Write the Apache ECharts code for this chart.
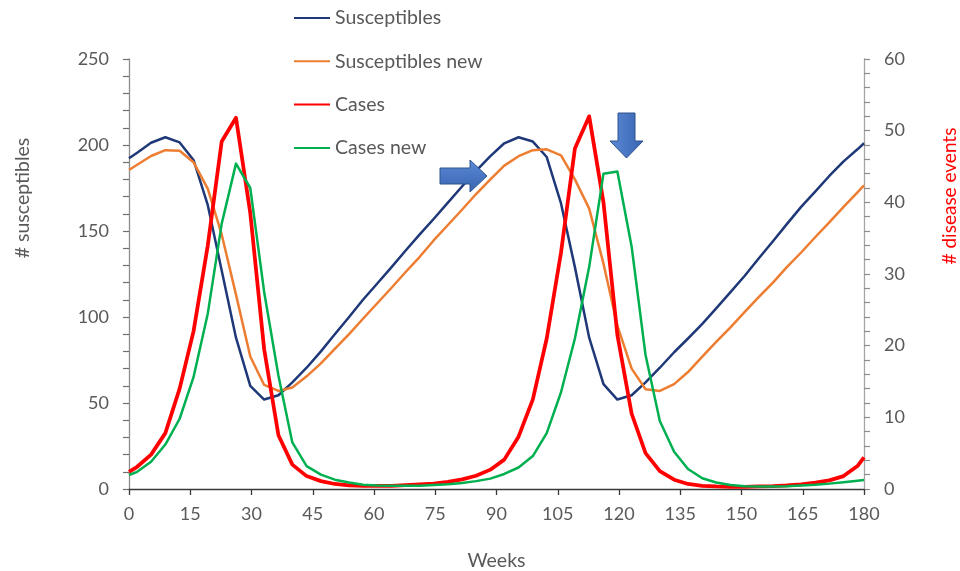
<!DOCTYPE html>
<html>
<head>
<meta charset="utf-8">
<script src="https://cdn.jsdelivr.net/npm/echarts@6/dist/echarts.min.js"></script>
<style>
  html, body { margin: 0; padding: 0; background: #ffffff; }
  #chart { width: 960px; height: 571px; }
</style>
</head>
<body>
<div id="chart"></div>
<script>
// Simulated weekly sampling points (weeks)
const weeks = [0, 2.0, 5.4, 8.9, 12.4, 15.8, 19.3, 22.7, 26.2, 29.7,
  33.1, 36.6, 40.0, 43.5, 47.0, 50.4, 53.9, 57.3, 60.8, 64.3,
  67.7, 71.2, 74.6, 78.1, 81.6, 85.0, 88.5, 91.9, 95.4, 98.9,
  102.3, 105.8, 109.2, 112.7, 116.2, 119.6, 123.1, 126.5, 130.0, 133.5,
  136.9, 140.4, 143.8, 147.3, 150.8, 154.2, 157.7, 161.1, 164.6, 168.1,
  171.5, 175.0, 178.4, 180];

// Number of susceptibles (left axis)
const susceptibles = [192.3, 195.5, 201.3, 204.5, 201.5, 191.3, 165, 127, 88, 60,
  52, 54.5, 62, 70.5, 80, 90, 100, 110, 119.5, 129,
  138.5, 148, 157, 166.5, 176, 185, 193.5, 201, 204.5, 202,
  193, 166, 129, 88, 61, 52, 54.5, 62, 70.5, 79.5,
  87.5, 96, 105, 114.5, 124, 134, 144, 154, 164, 173,
  182, 190.5, 197.5, 201];

const susceptiblesNew = [185.5, 188.5, 193.6, 197, 196.7, 190, 174.5, 148, 113, 77,
  60.5, 57, 59, 65.5, 73, 81.5, 90, 99, 108, 117,
  126, 135, 144.5, 153.5, 162.5, 171.5, 180, 188, 193.5, 197,
  197.5, 194, 180, 163, 131, 95, 70, 58, 57, 61,
  68, 77, 85.5, 94, 103, 111.5, 120, 129, 137.5, 146.5,
  155, 164, 172.5, 176.5];

// Disease events per week (right axis)
const cases = [2.4, 3.1, 4.8, 7.8, 14, 22, 34, 48.5, 51.8, 38.5,
  19.5, 7.5, 3.4, 1.8, 1.1, 0.7, 0.5, 0.45, 0.45, 0.45,
  0.55, 0.65, 0.75, 1.0, 1.35, 1.85, 2.7, 4.1, 7.3, 12.5,
  21, 33, 47.5, 52, 40, 21.5, 10.5, 5, 2.5, 1.3,
  0.7, 0.45, 0.35, 0.3, 0.3, 0.35, 0.4, 0.5, 0.65, 0.9,
  1.2, 1.8, 3.2, 4.4];

const casesNew = [1.95, 2.4, 3.8, 6.2, 9.8, 15.6, 24.5, 37, 45.4, 42,
  27.5, 15.8, 6.5, 3.2, 2.0, 1.3, 0.9, 0.6, 0.5, 0.45,
  0.45, 0.45, 0.55, 0.65, 0.85, 1.1, 1.45, 2.1, 3.0, 4.6,
  7.8, 13.5, 21, 31, 44, 44.3, 33.8, 18.7, 9.5, 5.2,
  2.8, 1.5, 0.9, 0.55, 0.4, 0.35, 0.35, 0.4, 0.5, 0.6,
  0.75, 0.95, 1.15, 1.25];

const seriesNames = ['Susceptibles', 'Susceptibles new', 'Cases', 'Cases new'];
const seriesColors = ['#1f3878', '#ed7d31', '#ff0000', '#00b050'];
const leftTicks = [0, 250, 50];   // min, max, step
const rightTicks = [0, 60, 10];
const weekTicks = [0, 180, 15];

const FONT = 'Lato, "Open Sans", sans-serif';
const TEXT = '#595959';

function pairs(values) {
  return weeks.map((w, i) => [w, values[i]]);
}

function lineSeries(idx, values, axisIndex, width) {
  return {
    name: seriesNames[idx],
    type: 'line',
    yAxisIndex: axisIndex,
    data: pairs(values),
    symbol: 'none',
    smooth: false,
    clip: true,
    lineStyle: { color: seriesColors[idx], width: width, join: 'round' },
    itemStyle: { color: seriesColors[idx] },
    emphasis: { disabled: true },
    z: 2 + idx
  };
}

const chart = echarts.init(document.getElementById('chart'), null, { renderer: 'canvas' });

chart.setOption({
  animation: false,
  backgroundColor: '#ffffff',
  textStyle: { fontFamily: FONT },
  grid: { left: 129, right: 96, top: 59, bottom: 82, containLabel: false, outerBoundsMode: 'none' },
  legend: {
    orient: 'vertical',
    left: 293,
    top: 7,
    padding: 0,
    itemWidth: 36,
    itemHeight: 14,
    itemGap: 21.3,
    data: seriesNames,
    itemStyle: { opacity: 0 },
    textStyle: { fontFamily: FONT, fontSize: 19.5, color: TEXT, lineHeight: 22 },
    selectedMode: false
  },
  xAxis: {
    type: 'value',
    min: weekTicks[0], max: weekTicks[1], interval: weekTicks[2],
    name: 'Weeks',
    nameLocation: 'middle',
    nameGap: 62,
    nameTextStyle: { fontFamily: FONT, fontSize: 19.5, color: TEXT },
    axisLine: { show: true, onZero: false, lineStyle: { color: '#3a3a3a', width: 1.3 } },
    axisTick: { show: true, length: 6, lineStyle: { color: '#3a3a3a', width: 1.3 } },
    axisLabel: { fontFamily: FONT, fontSize: 18, color: TEXT, margin: 16 },
    splitLine: { show: false }
  },
  yAxis: [
    {
      type: 'value',
      position: 'left',
      min: leftTicks[0], max: leftTicks[1], interval: leftTicks[2],
      axisLine: { show: true, lineStyle: { color: '#8c8c8c', width: 1.3 } },
      axisTick: { show: true, length: 6, lineStyle: { color: '#6f6f6f', width: 1.2 } },
      minorTick: { show: true, splitNumber: 5, length: 6, lineStyle: { color: '#6f6f6f', width: 1.2 } },
      axisLabel: { fontFamily: FONT, fontSize: 18, color: TEXT, margin: 20 },
      splitLine: { show: false }
    },
    {
      type: 'value',
      position: 'right',
      min: rightTicks[0], max: rightTicks[1], interval: rightTicks[2],
      axisLine: { show: true, lineStyle: { color: '#a6a6a6', width: 1.3 } },
      axisTick: { show: true, length: 6, lineStyle: { color: '#8c8c8c', width: 1.2 } },
      minorTick: { show: true, splitNumber: 5, length: 6, lineStyle: { color: '#8c8c8c', width: 1.2 } },
      axisLabel: { fontFamily: FONT, fontSize: 18, color: TEXT, margin: 20 },
      splitLine: { show: false }
    }
  ],
  series: [
    lineSeries(0, susceptibles, 0, 2.5),
    lineSeries(1, susceptiblesNew, 0, 2.5),
    lineSeries(2, cases, 1, 3.75),
    lineSeries(3, casesNew, 1, 2.5)
  ],
  graphic: [
    {
      type: 'text',
      x: 23, y: 198,
      rotation: Math.PI / 2,
      style: {
        text: '# susceptibles', fill: TEXT, font: '19.5px ' + FONT,
        align: 'center', verticalAlign: 'middle'
      }
    },
    {
      type: 'text',
      x: 950, y: 196,
      rotation: Math.PI / 2,
      style: {
        text: '# disease events', fill: '#ff0000', font: '19px ' + FONT,
        align: 'center', verticalAlign: 'middle'
      }
    },
    // block arrow pointing right
    {
      type: 'polygon',
      shape: { points: [[440, 168], [470, 168], [470, 160], [487, 176], [470, 192], [470, 184], [440, 184]] },
      style: {
        fill: new echarts.graphic.LinearGradient(0, 0, 0, 1, [
          { offset: 0, color: '#5b8ad6' }, { offset: 1, color: '#3864b0' }
        ]),
        stroke: '#2f528f', lineWidth: 1
      },
      z: 20
    },
    // block arrow pointing down
    {
      type: 'polygon',
      shape: { points: [[618, 113], [635, 113], [635, 141], [643, 141], [626.5, 158], [610, 141], [618, 141]] },
      style: {
        fill: new echarts.graphic.LinearGradient(0, 0, 1, 0, [
          { offset: 0, color: '#5b8ad6' }, { offset: 1, color: '#3864b0' }
        ]),
        stroke: '#2f528f', lineWidth: 1
      },
      z: 20
    }
  ]
});
</script>
</body>
</html>
